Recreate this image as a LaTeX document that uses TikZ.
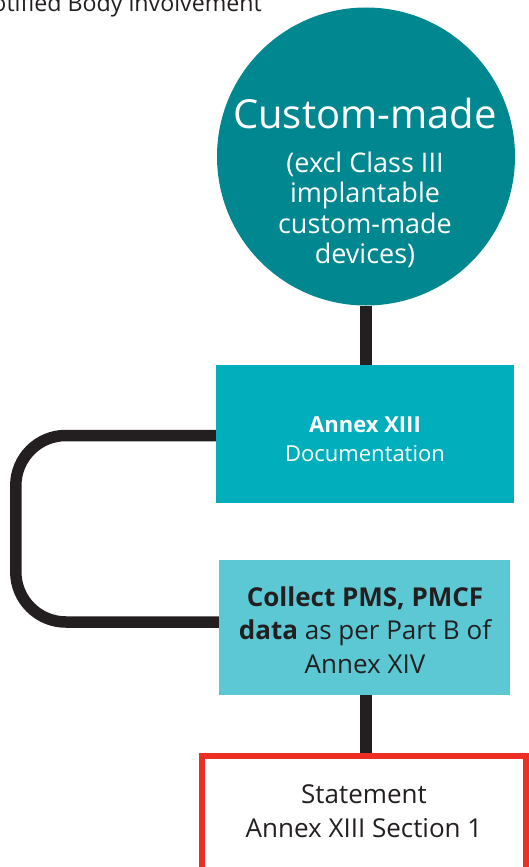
\documentclass[tikz,border=0pt]{standalone}
\usepackage{fontspec}
\setmainfont{Open Sans}
\usetikzlibrary{positioning}
\definecolor{darkteal}{HTML}{00878F}
\definecolor{midteal}{HTML}{00AEBC}
\definecolor{lightteal}{HTML}{5CC8D4}
\definecolor{inkline}{HTML}{231F20}
\definecolor{alertred}{HTML}{EE2E24}

\begin{document}
\begin{tikzpicture}[x=1pt,y=-1pt,
    link/.style={draw=inkline,line width=11.5pt},
    annexbox/.style={rectangle,fill=midteal,inner sep=0pt},
    pmsbox/.style={rectangle,fill=lightteal,inner sep=0pt},
    statebox/.style={rectangle,draw=alertred,line width=6pt,inner sep=0pt},
    boxtext/.style={anchor=base,align=center,inner sep=0pt}]
  \useasboundingbox (0,0) rectangle (529,867);
  \clip (0,0) rectangle (529,867);
  \node (title) [anchor=base east,inner sep=0pt,text=inkline,font=\fontsize{23.2}{26}\selectfont] at (262,12) {Notified Body involvement};
  \node (custom) [circle,fill=darkteal,minimum size=298pt,inner sep=0pt] at (366,156.5) {};
  \node (customtxt) [boxtext,text=white,font=\fontsize{27}{30.5}\selectfont] at (365,263.5)
    {{\fontsize{40}{44}\selectfont Custom-made}\\[13.5pt](excl Class III\\implantable\\custom-made\\devices)};
  \node (annex) [annexbox,minimum width=298pt,minimum height=138pt] at (365,434) {};
  \node (annextxt) [boxtext,text=white,font=\fontsize{22}{29}\selectfont] at (365,461)
    {\textbf{Annex XIII}\\Documentation};
  \node (pms) [pmsbox,minimum width=291pt,minimum height=135pt] at (364.5,627.5) {};
  \node (pmstxt) [boxtext,text=inkline,font=\fontsize{26}{33.5}\selectfont] at (365,673)
    {\textbf{Collect PMS, PMCF}\\\textbf{data} as per Part B of\\Annex XIV};
  \node (statement) [statebox,minimum width=324pt,minimum height=140pt] at (363.5,825.5) {};
  \node (statetxt) [boxtext,text=inkline,font=\fontsize{26}{34}\selectfont] at (364,837)
    {Statement\\Annex XIII Section 1};
  \draw [link] (custom.south -| 366,0) -- (annex.north -| 366,0);
  \draw [link] (pms.south -| 366,0) -- (statement.north -| 366,0);
  \draw [link,rounded corners=50pt] ([yshift=-1.5pt]annex.west) -- ++(-200,0) |- ([yshift=5.5pt]pms.west);
\end{tikzpicture}
\end{document}
